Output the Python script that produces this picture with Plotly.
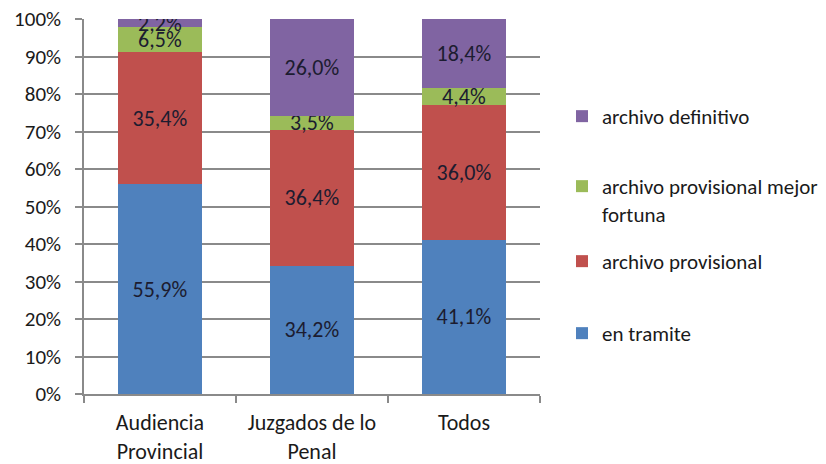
import plotly.graph_objects as go

categories = ["Audiencia<br>Provincial", "Juzgados de lo<br>Penal", "Todos"]
en_tramite = [55.9, 34.2, 41.1]
archivo_provisional = [35.4, 36.4, 36.0]
archivo_mejor_fortuna = [6.5, 3.5, 4.4]
archivo_definitivo = [2.2, 26.0, 18.4]
y_ticks = [0, 10, 20, 30, 40, 50, 60, 70, 80, 90, 100]
y_tick_labels = [f"{t}%" for t in y_ticks]

series = [
    ("en tramite", en_tramite, "#4F81BD", "legend4"),
    ("archivo provisional", archivo_provisional, "#C0504D", "legend3"),
    ("archivo provisional mejor<br>fortuna", archivo_mejor_fortuna, "#9BBB59", "legend2"),
    ("archivo definitivo", archivo_definitivo, "#8064A2", "legend"),
]

FONT = "Carlito, Lato, sans-serif"

def fmt(v):
    return f"{v:.1f}".replace(".", ",") + "%"

fig = go.Figure()
for name, vals, color, leg in series:
    fig.add_trace(go.Bar(
        x=categories, y=vals, name=name,
        marker=dict(color=color, line=dict(width=0)),
        text=[fmt(v) for v in vals],
        textposition="inside", insidetextanchor="middle",
        textangle=0, constraintext="none",
        textfont=dict(family=FONT, size=22, color="#1c1c30"),
        legend=leg,
    ))

W, H = 826, 464
L, T, PW, PH = 84, 19, 456, 375

leg_common = dict(font=dict(family=FONT, size=21, color="#1a1a1a"),
                  bgcolor="rgba(0,0,0,0)", xanchor="left", yanchor="top",
                  valign="top", itemclick=False)
def ly(py):
    return (394 - py) / 375.0
lx = (562 - 84) / 456.0

fig.update_layout(
    width=W, height=H,
    margin=dict(l=L, r=W - L - PW, t=T, b=H - T - PH, autoexpand=False),
    paper_bgcolor="white", plot_bgcolor="white",
    barmode="stack", barnorm="percent", bargap=0.45,
    separators=",.",
    showlegend=True,
    legend=dict(x=lx, y=ly(96), **leg_common),
    legend2=dict(x=lx, y=ly(166), **leg_common),
    legend3=dict(x=lx, y=ly(241), **leg_common),
    legend4=dict(x=lx, y=ly(313), **leg_common),
    xaxis=dict(
        tickfont=dict(family=FONT, size=22, color="#1a1a1a"),
        showline=True, linecolor="#8a8a8a", linewidth=1.5,
        ticks="outside", ticklen=7, tickcolor="#8a8a8a", tickwidth=1.5,
        tickson="boundaries", showgrid=False, automargin=False,
        ticklabelstandoff=8,
    ),
    yaxis=dict(
        range=[0, 100.01], tickvals=y_ticks, ticktext=y_tick_labels,
        tickfont=dict(family=FONT, size=21, color="#1a1a1a"),
        showline=True, linecolor="#8a8a8a", linewidth=1.5,
        ticks="outside", ticklen=7, tickcolor="#8a8a8a", tickwidth=1.5,
        showgrid=True, gridcolor="#8a8a8a", gridwidth=1.5,
        zeroline=False, automargin=False,
        ticklabeloverflow="allow", ticklabelstandoff=10,
    ),
)

fig.write_html(
    "out.html",
    config={"displayModeBar": False},
    post_script="document.body.style.margin='0';document.body.style.overflow='hidden';",
)
